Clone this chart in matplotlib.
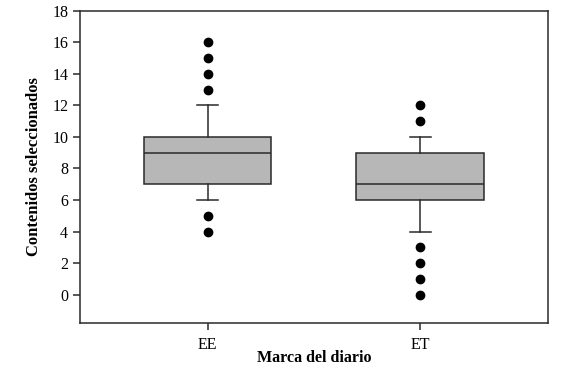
import matplotlib
matplotlib.use("Agg")
import matplotlib.pyplot as plt

# ============================================================
# Data
# ============================================================

categories = ["EE", "ET"]
q1 = [7, 6]
medians = [9, 7]
q3 = [10, 9]
whisker_low = [6, 4]
whisker_high = [12, 10]
outliers = [
    [4, 5, 13, 14, 15, 16],
    [0, 1, 2, 3, 11, 12],
]

# ============================================================
# Plot
# ============================================================

plt.rcParams["font.family"] = ["Liberation Serif", "DejaVu Serif"]

stats = []
for i, name in enumerate(categories):
    stats.append({
        "label": name,
        "q1": q1[i],
        "med": medians[i],
        "q3": q3[i],
        "whislo": whisker_low[i],
        "whishi": whisker_high[i],
        "fliers": outliers[i],
    })

fig = plt.figure(figsize=(5.66, 3.67), dpi=100)
ax = fig.add_axes([0.1413, 0.1199, 0.8267, 0.851])

line_col = "#2a2a2a"
ax.bxp(
    stats,
    positions=[1, 2],
    widths=0.6,
    patch_artist=True,
    boxprops=dict(facecolor="#b7b7b7", edgecolor=line_col, linewidth=1.1),
    medianprops=dict(color=line_col, linewidth=1.1),
    whiskerprops=dict(color=line_col, linewidth=1.1),
    capprops=dict(color=line_col, linewidth=1.1),
    capwidths=0.1,
    flierprops=dict(marker="o", markerfacecolor="black",
                    markeredgecolor="black", markersize=6),
)

ax.set_xlim(0.4, 2.6)
ax.set_ylim(-1.8, 18)
ax.set_yticks(range(0, 19, 2))

for spine in ax.spines.values():
    spine.set_color(line_col)
    spine.set_linewidth(1.1)

ax.tick_params(direction="out", length=5, width=1.1, color=line_col,
               labelsize=11.5)
ax.tick_params(axis="x", pad=5)

ax.set_xlabel("Marca del diario", fontsize=11.5, fontweight="bold", labelpad=-2)
ax.set_ylabel("Contenidos seleccionados", fontsize=12, fontweight="bold",
              labelpad=7)

fig.savefig("out.png", dpi=100)
